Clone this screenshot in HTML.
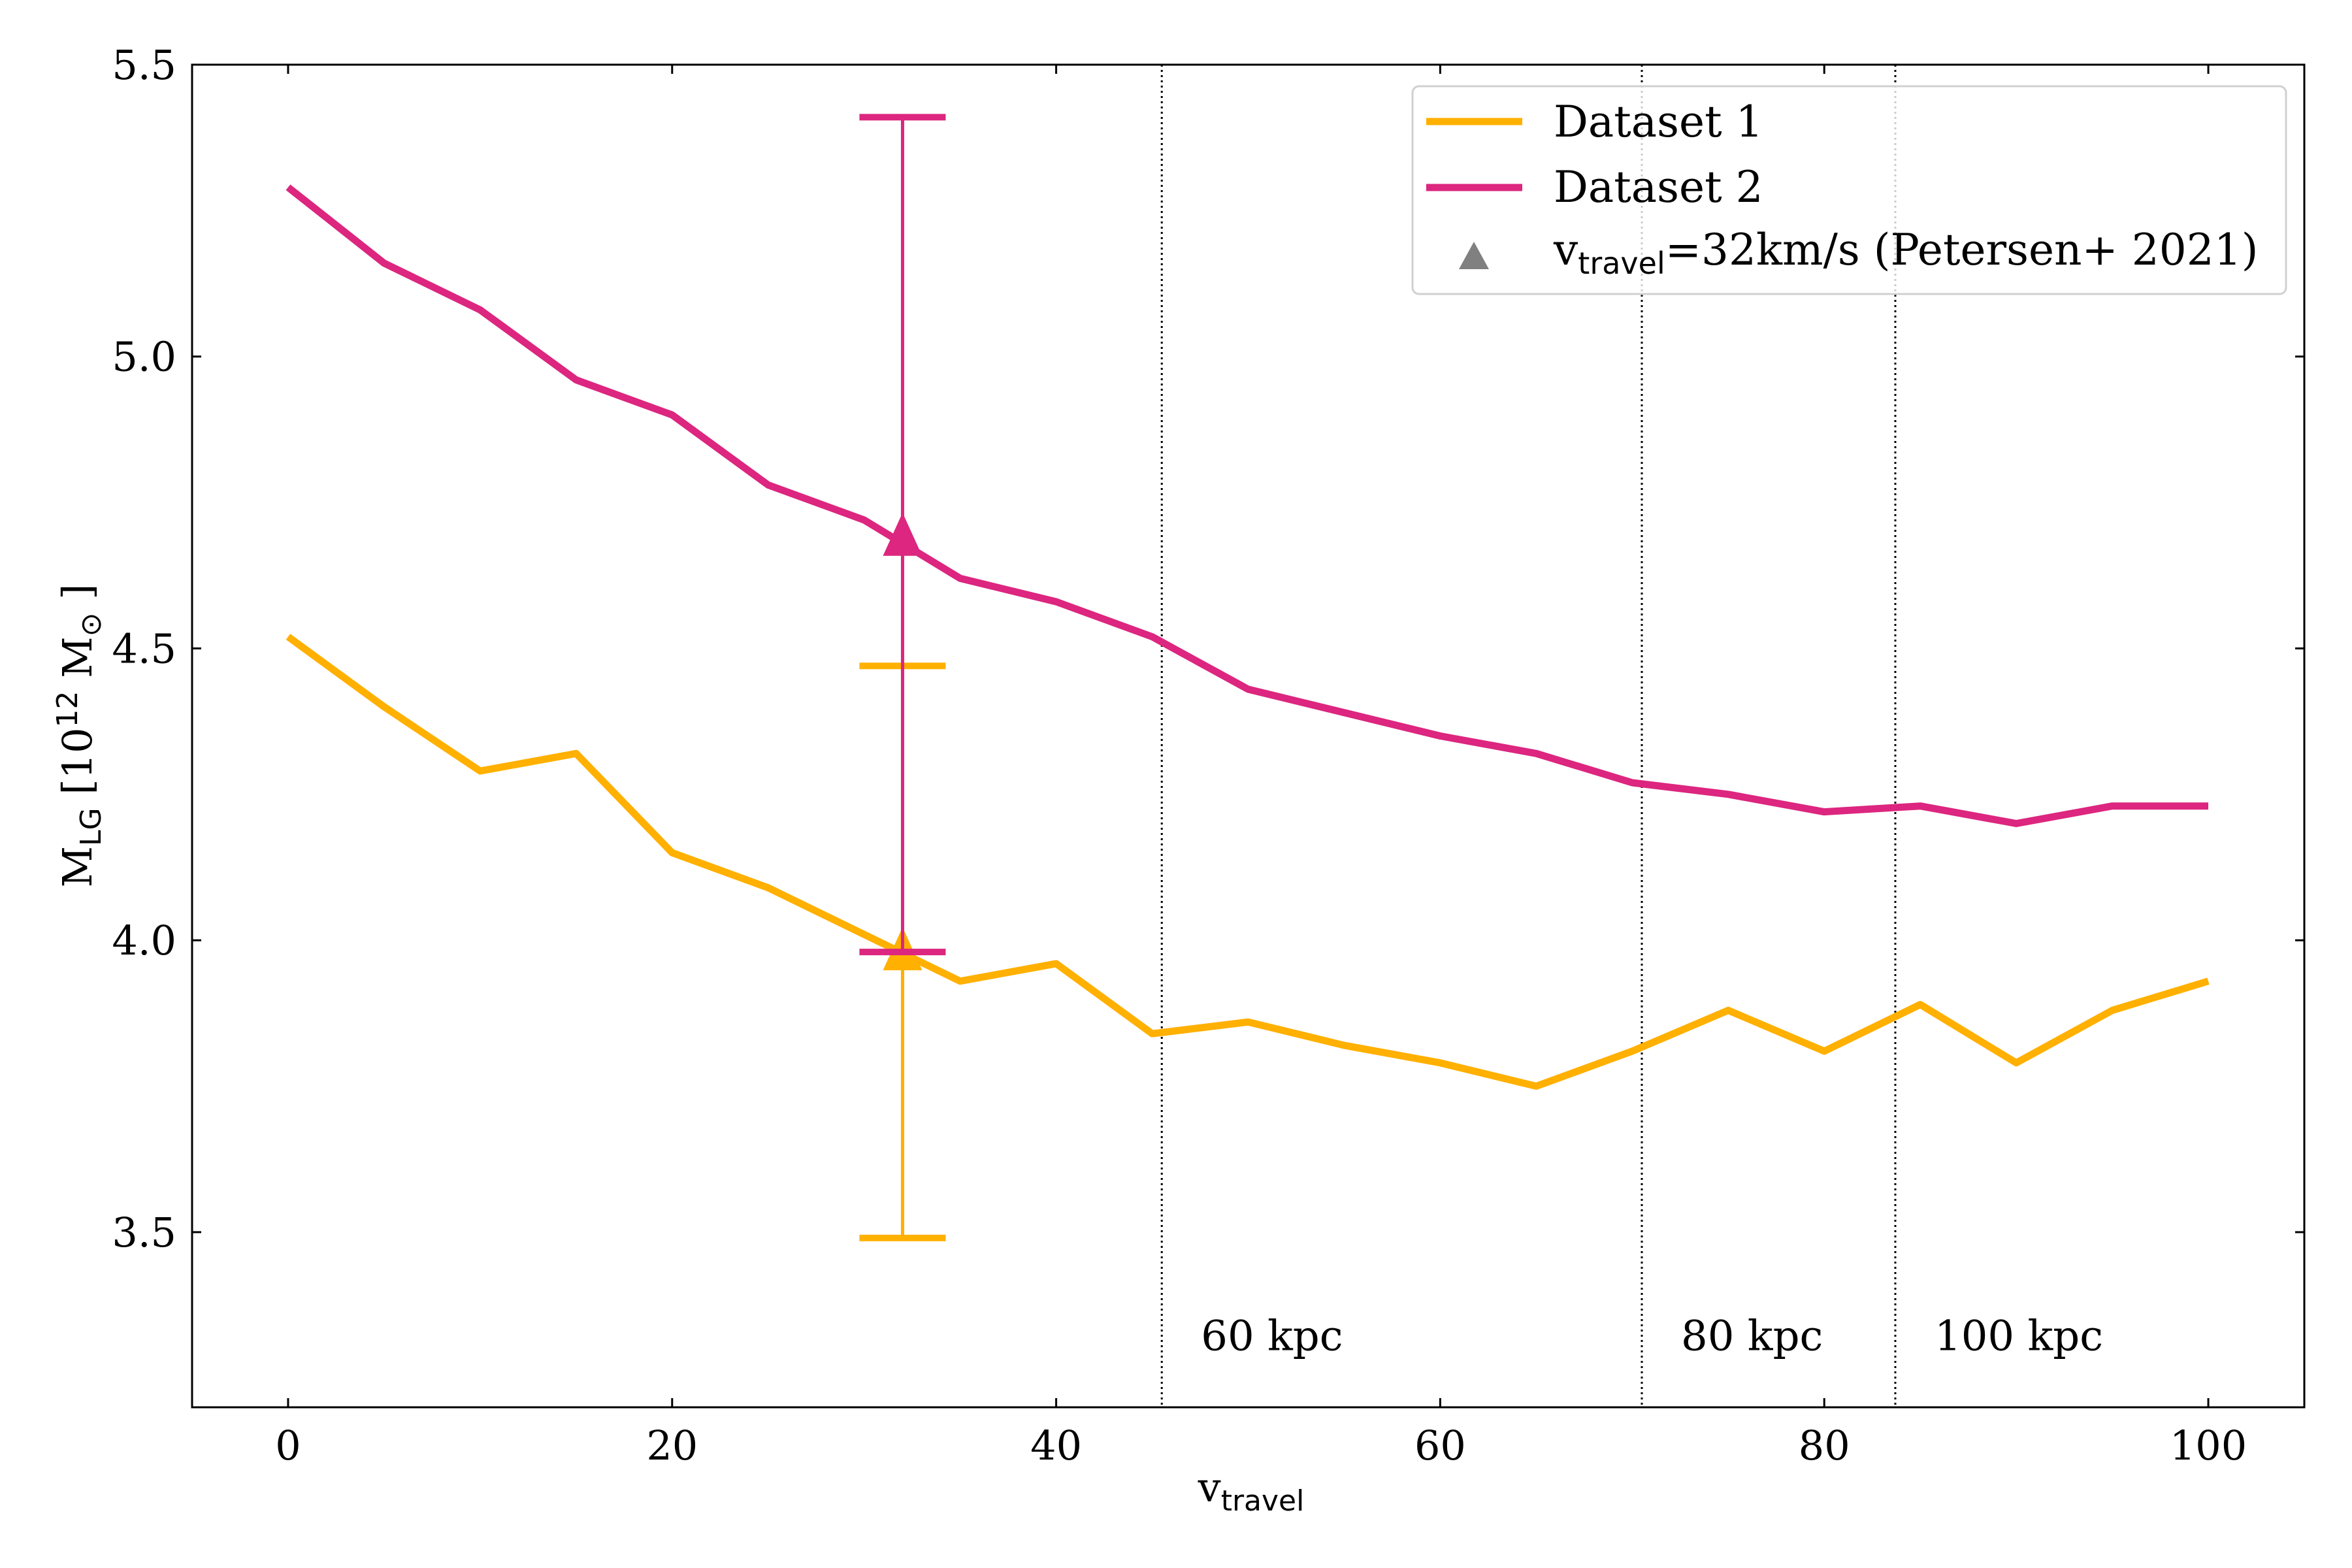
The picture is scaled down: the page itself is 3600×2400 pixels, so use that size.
<!DOCTYPE html>
<html><head><meta charset="utf-8"><style>
html,body{margin:0;padding:0;background:#fff}
svg{display:block}
text{font-family:"DejaVu Serif","Liberation Serif",serif;fill:#000}
.ss{font-family:"DejaVu Sans","Liberation Sans",sans-serif}
</style></head><body>
<svg id="chart" width="3600" height="2400" viewBox="0 0 3600 2400" xmlns="http://www.w3.org/2000/svg">
</svg>
<script>
const xValues=[0,5,10,15,20,25,30,35,40,45,50,55,60,65,70,75,80,85,90,95,100];
const dataset1=[4.52,4.40,4.29,4.32,4.15,4.09,4.01,3.93,3.96,3.84,3.86,3.82,3.79,3.75,3.81,3.88,3.81,3.89,3.79,3.88,3.93];
const dataset2=[5.29,5.16,5.08,4.96,4.90,4.78,4.72,4.62,4.58,4.52,4.43,4.39,4.35,4.32,4.27,4.25,4.22,4.23,4.20,4.23,4.23];
const errX=[32,32];
const errY=[3.98,4.69];
const errLo=[3.49,3.98];
const errHi=[4.47,5.41];
const vlines=[45.5,70.5,83.7];
const vlineLabels=["60 kpc","80 kpc","100 kpc"];
const xTicks=[0,20,40,60,80,100];
const yTicks=[3.5,4.0,4.5,5.0,5.5];
const colors=["#ffb000","#dc267f"];

const L=294,R=3527,T=99,B=2154;
const X0=-5,X1=105,Y0=3.2,Y1=5.5;
const sx=v=>L+(v-X0)/(X1-X0)*(R-L);
const sy=v=>B-(v-Y0)/(Y1-Y0)*(B-T);
const svg=document.getElementById('chart');
const NS="http://www.w3.org/2000/svg";
function mk(tag,attrs,parent){const e=document.createElementNS(NS,tag);for(const k in attrs)e.setAttribute(k,attrs[k]);(parent||svg).appendChild(e);return e;}

vlines.forEach((v,i)=>{
  const l=mk('line',{x1:sx(v),x2:sx(v),y1:T,y2:B,stroke:'#000','stroke-width':3,'stroke-dasharray':'3,5'});
  
  
  const t=mk('text',{x:sx(v)+60,y:sy(3.3)+2,'font-size':64});
  t.textContent=vlineLabels[i];
  
  
});

[dataset1,dataset2].forEach((d,i)=>{
  const p=mk('polyline',{points:d.map((v,j)=>sx(xValues[j])+','+sy(v)).join(' '),fill:'none',stroke:colors[i],'stroke-width':11,'stroke-linejoin':'round'});
  
  
});

errX.forEach((x,i)=>{
  const g=mk('g',{});
  
  
  const cx=sx(x);
  mk('line',{x1:cx,x2:cx,y1:sy(errLo[i]),y2:sy(errHi[i]),stroke:colors[i],'stroke-width':5},g);
  mk('line',{x1:cx-66,x2:cx+66,y1:sy(errLo[i]),y2:sy(errLo[i]),stroke:colors[i],'stroke-width':10},g);
  mk('line',{x1:cx-66,x2:cx+66,y1:sy(errHi[i]),y2:sy(errHi[i]),stroke:colors[i],'stroke-width':10},g);
  const cy=sy(errY[i]);
  mk('polygon',{points:`${cx},${cy-38} ${cx-30},${cy+28} ${cx+30},${cy+28}`,fill:colors[i]},g);
});

const fr=mk('rect',{x:L,y:T,width:R-L,height:B-T,fill:'none',stroke:'#000','stroke-width':3});



xTicks.forEach(v=>{
  const x=sx(v);
  mk('line',{x1:x,x2:x,y1:B,y2:B-14,stroke:'#000','stroke-width':3});
  mk('line',{x1:x,x2:x,y1:T,y2:T+14,stroke:'#000','stroke-width':3});
  const t=mk('text',{x:x,y:B+80,'font-size':62,'text-anchor':'middle'});
  t.textContent=v;
  
  
});
yTicks.forEach(v=>{
  const y=sy(v);
  mk('line',{x1:L,x2:L+14,y1:y,y2:y,stroke:'#000','stroke-width':3});
  mk('line',{x1:R,x2:R-14,y1:y,y2:y,stroke:'#000','stroke-width':3});
  const t=mk('text',{x:L-24,y:y+22,'font-size':62,'text-anchor':'end'});
  t.textContent=v.toFixed(1);
  
  
});
</script>
<svg style="position:absolute;left:0;top:0" width="3600" height="2400" viewBox="0 0 3600 2400" xmlns="http://www.w3.org/2000/svg">
  <text x="1915" y="2298" font-size="62" text-anchor="middle">v<tspan class="ss" font-size="44" dy="14">travel</tspan></text>
  <text transform="translate(140,1126) rotate(-90)" font-size="62" text-anchor="middle">M<tspan class="ss" font-size="44" dy="14">LG</tspan><tspan dy="-14"> [10</tspan><tspan class="ss" font-size="44" dy="-22">12</tspan><tspan dy="22"> M</tspan><tspan class="ss" font-size="44" dy="14">⊙</tspan><tspan dy="-14"> ]</tspan></text>
  <g>
    <rect x="2162" y="132" width="1337" height="318" rx="10" fill="#fff" fill-opacity="0.8" stroke="#d0d0d0" stroke-width="3"/>
    <line x1="2183" x2="2330" y1="186" y2="186" stroke="#ffb000" stroke-width="11"/>
    <text x="2378" y="209" font-size="66">Dataset 1</text>
    <line x1="2183" x2="2330" y1="287" y2="287" stroke="#dc267f" stroke-width="11"/>
    <text x="2378" y="309" font-size="66">Dataset 2</text>
    <polygon points="2256,370 2233,412 2279,412" fill="#808080"/>
    <text x="2378" y="405" font-size="66">v<tspan class="ss" font-size="46" dy="14">travel</tspan><tspan dy="-14">=32km/s (Petersen+ 2021)</tspan></text>
  </g>
</svg>
</body></html>
